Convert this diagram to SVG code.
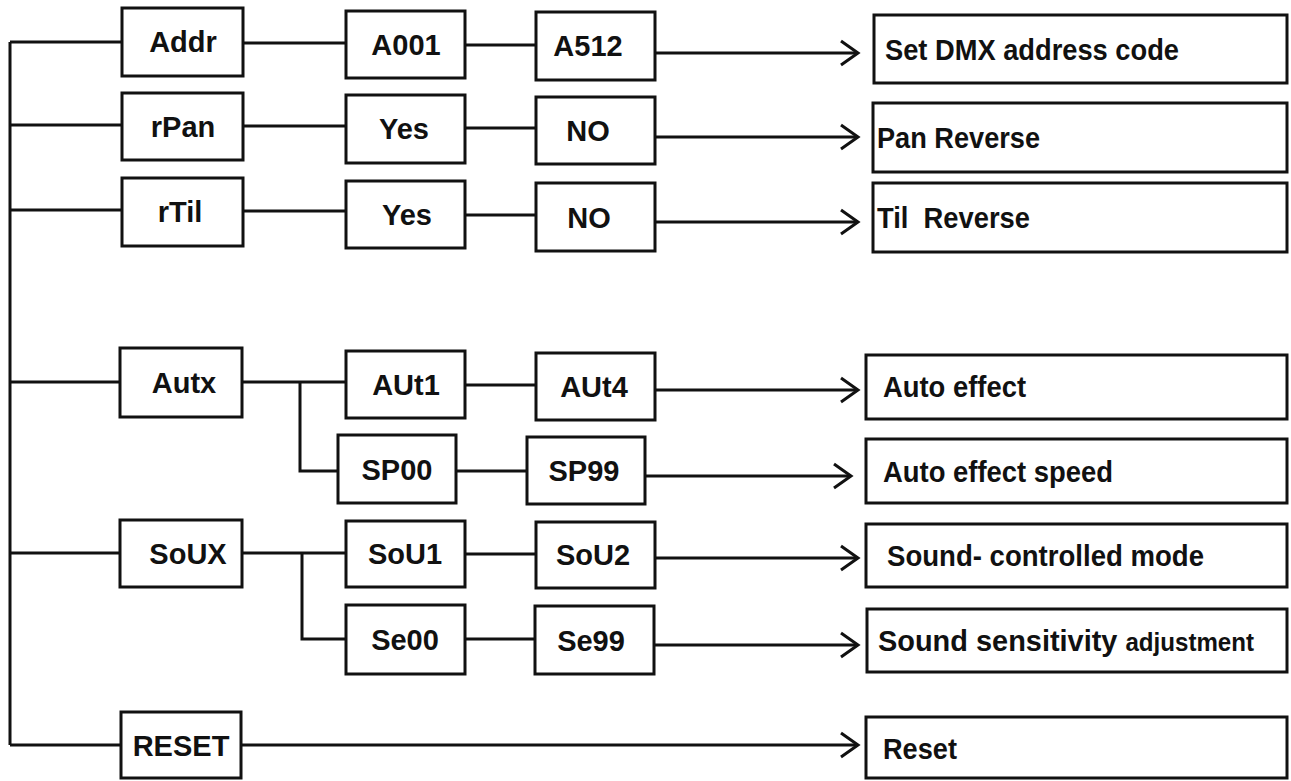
<svg xmlns="http://www.w3.org/2000/svg" width="1291" height="781" viewBox="0 0 1291 781">
<style>
rect{fill:#fff;stroke:#111;stroke-width:3}
text{font-family:"Liberation Sans",Arial,sans-serif;font-weight:bold;font-size:29px;fill:#111}
.c{text-anchor:middle}
.r{font-size:30px}
#connectors path{fill:none;stroke:#111;stroke-width:3}
</style>
<defs>
<marker id="ah" markerUnits="userSpaceOnUse" markerWidth="30" markerHeight="30" refX="20" refY="14" orient="auto" viewBox="0 0 30 30">
<path d="M3,2 L20,14 L3,26" fill="none" stroke="#111" stroke-width="3"/>
</marker>
</defs>
<rect x="0" y="0" width="1291" height="781" style="fill:#fff;stroke:none"/>
<g id="connectors">
<path d="M10,42 L10,745"/>
<path d="M10,42 L122,42"/>
<path d="M10,125 L122,125"/>
<path d="M10,210 L122,210"/>
<path d="M10,382 L120,382"/>
<path d="M10,553 L120,553"/>
<path d="M10,745 L121,745"/>
<path d="M243,43 L346,43"/>
<path d="M465,45 L536,45"/>
<path d="M655,53 L858,53" marker-end="url(#ah)"/>
<path d="M243,126 L346,126"/>
<path d="M465,128 L536,128"/>
<path d="M655,137 L858,137" marker-end="url(#ah)"/>
<path d="M243,211 L346,211"/>
<path d="M465,215 L536,215"/>
<path d="M655,222 L858,222" marker-end="url(#ah)"/>
<path d="M242,382 L346,382"/>
<path d="M300,382 L300,471 L338,471"/>
<path d="M465,385 L536,385"/>
<path d="M655,390 L858,390" marker-end="url(#ah)"/>
<path d="M456,471 L527,471"/>
<path d="M645,476 L851,476" marker-end="url(#ah)"/>
<path d="M242,553 L346,553"/>
<path d="M302,553 L302,639 L346,639"/>
<path d="M465,554 L536,554"/>
<path d="M655,558 L858,558" marker-end="url(#ah)"/>
<path d="M465,639 L535,639"/>
<path d="M653,645 L858,645" marker-end="url(#ah)"/>
<path d="M241,745 L858,745" marker-end="url(#ah)"/>
</g>
<g id="n-addr"><rect x="122" y="8" width="121" height="68"/><text class="c" x="183" y="52">Addr</text></g>
<g id="n-rpan"><rect x="122" y="93" width="121" height="67"/><text class="c" x="183" y="137">rPan</text></g>
<g id="n-rtil"><rect x="122" y="178" width="121" height="68"/><text class="c" x="180" y="222">rTil</text></g>
<g id="n-autx"><rect x="120" y="348" width="122" height="69"/><text class="c" x="184" y="393">Autx</text></g>
<g id="n-soux"><rect x="120" y="520" width="122" height="67"/><text class="c" x="188" y="564">SoUX</text></g>
<g id="n-reset"><rect x="121" y="712" width="120" height="66"/><text class="c" x="181" y="756">RESET</text></g>
<g id="n-a001"><rect x="346" y="11" width="119" height="67"/><text class="c" x="406" y="55">A001</text></g>
<g id="n-yes1"><rect x="346" y="95" width="119" height="68"/><text class="c" x="404" y="139">Yes</text></g>
<g id="n-yes2"><rect x="346" y="181" width="119" height="67"/><text class="c" x="407" y="225">Yes</text></g>
<g id="n-aut1"><rect x="346" y="351" width="119" height="67"/><text class="c" x="406" y="395">AUt1</text></g>
<g id="n-sp00"><rect x="338" y="435" width="118" height="68"/><text class="c" x="397" y="480">SP00</text></g>
<g id="n-sou1"><rect x="346" y="521" width="119" height="66"/><text class="c" x="405" y="564">SoU1</text></g>
<g id="n-se00"><rect x="346" y="605" width="119" height="69"/><text class="c" x="405" y="650">Se00</text></g>
<g id="n-a512"><rect x="536" y="12" width="119" height="68"/><text class="c" x="588" y="56">A512</text></g>
<g id="n-no1"><rect x="536" y="97" width="119" height="67"/><text class="c" x="588" y="141">NO</text></g>
<g id="n-no2"><rect x="536" y="183" width="119" height="68"/><text class="c" x="589" y="228">NO</text></g>
<g id="n-aut4"><rect x="536" y="353" width="119" height="67"/><text class="c" x="594" y="397">AUt4</text></g>
<g id="n-sp99"><rect x="527" y="437" width="118" height="67"/><text class="c" x="584" y="481">SP99</text></g>
<g id="n-sou2"><rect x="536" y="522" width="119" height="66"/><text class="c" x="593" y="565">SoU2</text></g>
<g id="n-se99"><rect x="535" y="606" width="119" height="68"/><text class="c" x="591" y="651">Se99</text></g>
<g id="r-dmx"><rect x="874" y="15" width="413" height="68"/><text class="r" x="885" y="60" textLength="294" lengthAdjust="spacingAndGlyphs">Set DMX address code</text></g>
<g id="r-pan"><rect x="873" y="103" width="414" height="69"/><text class="r" x="877" y="148" textLength="163" lengthAdjust="spacingAndGlyphs">Pan Reverse</text></g>
<g id="r-til"><rect x="873" y="183" width="414" height="69"/><text class="r" x="877" y="228" xml:space="preserve" textLength="153" lengthAdjust="spacingAndGlyphs">Til  Reverse</text></g>
<g id="r-auto"><rect x="866" y="355" width="421" height="64"/><text class="r" x="883" y="397" textLength="143" lengthAdjust="spacingAndGlyphs">Auto effect</text></g>
<g id="r-speed"><rect x="866" y="439" width="421" height="64"/><text class="r" x="883" y="482" textLength="230" lengthAdjust="spacingAndGlyphs">Auto effect speed</text></g>
<g id="r-sound"><rect x="866" y="524" width="421" height="63"/><text class="r" x="887" y="566" textLength="317" lengthAdjust="spacingAndGlyphs">Sound- controlled mode</text></g>
<g id="r-sens"><rect x="867" y="609" width="420" height="63"/><text class="r" x="878" y="651" textLength="376" lengthAdjust="spacingAndGlyphs">Sound sensitivity <tspan font-size="25">adjustment</tspan></text></g>
<g id="r-reset"><rect x="866" y="717" width="421" height="61"/><text class="r" x="883" y="759" textLength="74" lengthAdjust="spacingAndGlyphs">Reset</text></g>
</svg>
